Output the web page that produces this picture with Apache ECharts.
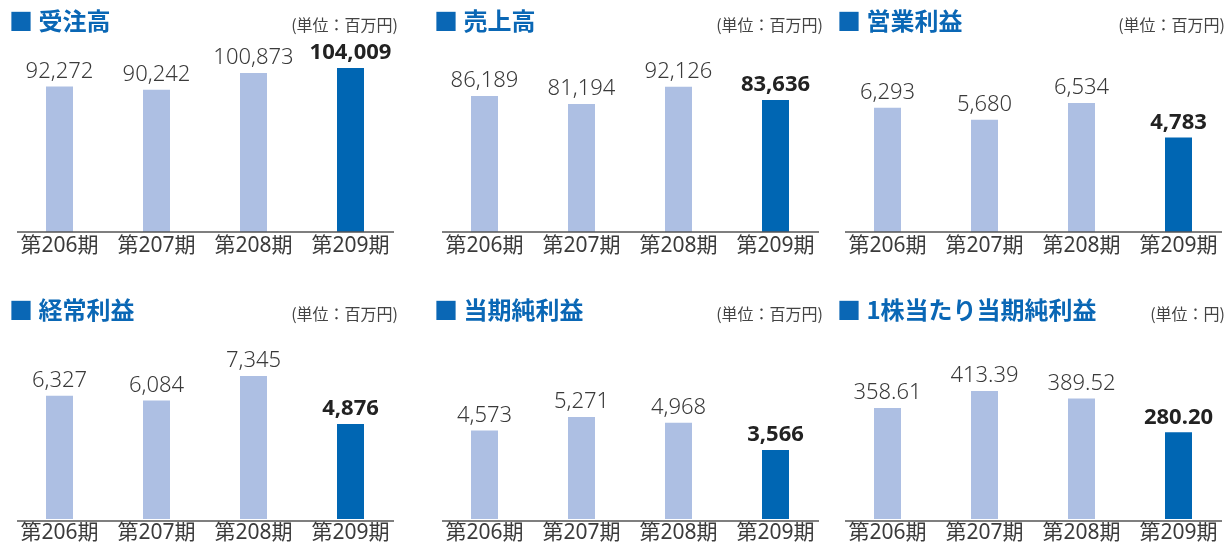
<!DOCTYPE html>
<html>
<head>
<meta charset="utf-8">
<title>業績ハイライト</title>
<script src="https://cdn.jsdelivr.net/npm/echarts@6/dist/echarts.min.js"></script>
<style>
  html, body { margin: 0; padding: 0; background: #fff; }
  #container { width: 1227px; height: 544px; }
</style>
</head>
<body>
<div id="container"></div>
<script type="text/javascript">
// データ
var periods = ['第206期', '第207期', '第208期', '第209期'];
var orders = [92272, 90242, 100873, 104009];          // 受注高
var sales = [86189, 81194, 92126, 83636];             // 売上高
var operatingIncome = [6293, 5680, 6534, 4783];       // 営業利益
var ordinaryIncome = [6327, 6084, 7345, 4876];        // 経常利益
var netIncome = [4573, 5271, 4968, 3566];             // 当期純利益
var eps = [358.61, 413.39, 389.52, 280.20];           // 1株当たり当期純利益

var FONT = '"Noto Sans CJK JP", "Noto Sans", sans-serif';
var NUMFONT = '"Noto Sans", "Noto Sans CJK JP", sans-serif';
var BLUE = '#0a67b5';
var DARK = '#0066b3';
var LIGHT = '#adbfe3';

// パネル配置 (left = カテゴリ帯の左端, base = 軸の位置, top = 最大棒の上端)
var panels = [
  { name: '受注高', unit: '(単位：百万円)', data: orders, left: 11, base: 232, top: 68, fix: 0, titleY: 9 },
  { name: '売上高', unit: '(単位：百万円)', data: sales, left: 436, base: 232, top: 86.7, fix: 0, titleY: 9 },
  { name: '営業利益', unit: '(単位：百万円)', data: operatingIncome, left: 839, base: 232, top: 103, fix: 0, titleY: 9 },
  { name: '経常利益', unit: '(単位：百万円)', data: ordinaryIncome, left: 11, base: 521, top: 376, fix: 0, titleY: 298 },
  { name: '当期純利益', unit: '(単位：百万円)', data: netIncome, left: 436, base: 521, top: 417, fix: 0, titleY: 298 },
  { name: '1株当たり当期純利益', unit: '(単位：円)', data: eps, left: 839, base: 521, top: 391, fix: 2, titleY: 298 }
];
var unitRight = [829, 404, 2, 829, 404, 2];

function fmt(v, fix) {
  return fix ? v.toFixed(fix) : v.toLocaleString('en-US');
}

var dom = document.getElementById('container');
var myChart = echarts.init(dom, null, { renderer: 'canvas' });

var option = {
  animation: false,
  backgroundColor: '#fff',
  title: [],
  grid: [],
  xAxis: [],
  yAxis: [],
  series: [],
  graphic: []
};

panels.forEach(function (p, i) {
  option.title.push({
    text: '■ ' + p.name,
    left: p.left - 2,
    top: p.titleY,
    padding: 0,
    textStyle: { color: BLUE, fontSize: 24, fontWeight: 'bold', fontFamily: FONT }
  });
  option.title.push({
    text: p.unit,
    right: unitRight[i],
    top: p.titleY + 8,
    padding: 0,
    textStyle: { color: '#444', fontSize: 16, fontWeight: 'normal', fontFamily: FONT }
  });
  option.grid.push({
    left: p.left,
    width: 388,
    top: p.top,
    height: p.base - p.top,
    containLabel: false
  });
  option.xAxis.push({
    type: 'category',
    gridIndex: i,
    data: periods,
    axisLine: { show: false },
    axisTick: { show: false },
    axisLabel: {
      interval: 0,
      hideOverlap: false,
      color: '#3a3a3a',
      fontSize: 21,
      fontWeight: 'normal',
      fontFamily: NUMFONT,
      margin: 4
    }
  });
  option.yAxis.push({
    type: 'value',
    gridIndex: i,
    min: 0,
    max: 'dataMax',
    show: false
  });
  option.series.push({
    type: 'bar',
    xAxisIndex: i,
    yAxisIndex: i,
    barWidth: 27,
    data: p.data.map(function (v, k) {
      var last = k === p.data.length - 1;
      return {
        value: v,
        itemStyle: { color: last ? DARK : LIGHT },
        label: {
          fontWeight: last ? 'bold' : 300,
          color: last ? '#222' : '#3a3a3a'
        }
      };
    }),
    label: {
      show: true,
      position: 'top',
      distance: 4,
      fontSize: 22,
      fontFamily: NUMFONT,
      formatter: function (prm) { return fmt(prm.value, p.fix); }
    }
  });
  // 軸線
  option.graphic.push({
    type: 'line',
    shape: { x1: p.left + 6, y1: p.base, x2: p.left + 383, y2: p.base },
    style: { stroke: '#555', lineWidth: 1.5 },
    z: 10
  });
});

myChart.setOption(option);
</script>
</body>
</html>
